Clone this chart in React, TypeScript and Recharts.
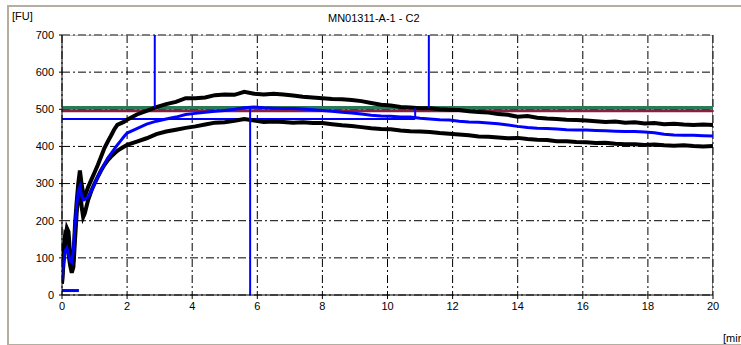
import React from 'react';
import { ComposedChart, Line, XAxis, YAxis, CartesianGrid } from 'recharts';

// time axis shared by the three measured curves [min]
const minutes = [
  0, 0.05, 0.1, 0.15, 0.2, 0.25, 0.3, 0.35, 0.4, 0.45, 0.5, 0.55, 0.6, 0.65, 0.7,
  0.8, 0.9, 1.0, 1.1, 1.2, 1.3, 1.4, 1.5, 1.6, 1.7, 1.8, 1.9, 2.0,
  2.3, 2.6, 2.9, 3.2, 3.5, 3.8, 4.1, 4.4, 4.7, 5.0, 5.3, 5.6, 5.9, 6.2, 6.5, 6.8, 7.1, 7.4, 7.7, 8.0,
  8.3, 8.6, 8.9, 9.2, 9.5, 9.8, 10.1, 10.4, 10.7, 11.0, 11.3, 11.6, 11.9, 12.2, 12.5, 12.8, 13.1, 13.4,
  13.7, 14.0, 14.3, 14.6, 14.9, 15.2, 15.5, 15.8, 16.1, 16.4, 16.7, 17.0, 17.3, 17.6, 17.9, 18.2, 18.5,
  18.8, 19.1, 19.4, 19.7, 20.0,
];

// upper band edge [FU]
const upperFU = [
  32, 90, 150, 180, 170, 110, 70, 95, 190, 250, 300, 335, 300, 275, 265,
  290, 310, 330, 350, 372, 395, 412, 428, 445, 458, 462, 466, 472,
  486, 496, 506, 514, 520, 530, 530, 532, 538, 540, 539, 547, 542, 540, 542, 540, 537, 534, 532, 530,
  528, 527, 525, 522, 517, 512, 510, 506, 505, 503, 503, 500, 499, 498, 495, 493, 491, 487,
  485, 480, 482, 477, 475, 474, 472, 471, 470, 468, 466, 467, 464, 465, 462, 463, 460,
  461, 459, 458, 459, 458,
];

// lower band edge [FU]
const lowerFU = [
  30, 120, 165, 160, 110, 80, 60, 75, 150, 220, 270, 300, 240, 210, 220,
  255, 280, 300, 318, 335, 350, 362, 372, 380, 388, 394, 399, 404,
  413, 422, 433, 440, 445, 450, 454, 459, 464, 465, 469, 474, 470, 466, 467, 466, 464, 465, 463, 463,
  460, 457, 455, 452, 449, 447, 446, 443, 441, 440, 439, 436, 434, 432, 430, 427, 426, 424,
  422, 423, 420, 418, 417, 414, 414, 412, 411, 409, 410, 407, 406, 406, 404, 405, 403,
  402, 403, 401, 400, 401,
];

// median curve [FU]
const medianFU = [
  40, 90, 120, 127, 110, 92, 88, 120, 190, 240, 280, 292, 268, 256, 258,
  264, 280, 300, 318, 336, 352, 368, 380, 392, 404, 415, 426, 436,
  448, 460, 468, 474, 479, 486, 489, 492, 495, 497, 500, 504, 506, 504, 503, 502, 502, 501, 499, 497,
  495, 492, 490, 487, 484, 482, 481, 479, 479, 476, 474, 472, 471, 468, 466, 465, 463, 461,
  458, 454, 451, 449, 448, 447, 445, 444, 444, 443, 442, 441, 440, 440, 439, 437, 433,
  431, 430, 430, 429, 428,
];

const xTicks = [0, 2, 4, 6, 8, 10, 12, 14, 16, 18, 20];
const yTicks = [0, 100, 200, 300, 400, 500, 600, 700];

// consistency lines [FU]
const upperLimit = 505;
const lowerLimit = 496;

// evaluation markers: [t1, fu1, t2, fu2]
const blueMarkers = [
  [0, 474, 10.85, 474],
  [10.85, 474, 10.85, 503],
  [2.85, 504, 2.85, 700],
  [5.78, 0, 5.78, 506],
  [11.27, 504, 11.27, 700],
  [0, 12, 0.52, 12],
];

const curve = (vals: number[]) => minutes.map((t, i) => ({ t, v: vals[i] }));
const seg = (m: number[]) => [{ t: m[0], v: m[1] }, { t: m[2], v: m[3] }];

const font = '"Liberation Sans", Arial, sans-serif';
const tick = { fontSize: 11, fill: '#000', fontFamily: font };

export default function App() {
  return (
    <div style={{ position: 'absolute', left: 0, top: 0, width: 741, height: 345, background: '#fff', overflow: 'hidden', fontFamily: font }}>
      <div style={{ position: 'absolute', left: 7, top: 5, width: 760, height: 337, border: '2px solid #b3ae9f' }} />
      <div style={{ position: 'absolute', left: 12, top: 10, fontSize: 11 }}>[FU]</div>
      <div style={{ position: 'absolute', left: 328, top: 12, fontSize: 11 }}>MN01311-A-1 - C2</div>
      <div style={{ position: 'absolute', left: 723, top: 332, fontSize: 11, whiteSpace: 'nowrap' }}>[min]</div>
      <div style={{ position: 'absolute', left: 0, top: 0 }}>
        <ComposedChart width={741} height={345} margin={{ top: 35, right: 28, bottom: 20, left: 22 }}>
          <CartesianGrid stroke="#000" strokeDasharray="8 3 2 3" />
          <XAxis dataKey="t" type="number" domain={[0, 20]} ticks={xTicks} allowDataOverflow
            height={30} tick={tick} tickSize={4} tickMargin={3}
            axisLine={{ stroke: '#000' }} tickLine={{ stroke: '#000' }} />
          <YAxis type="number" domain={[0, 700]} ticks={yTicks} allowDataOverflow
            width={40} tick={tick} tickSize={3} tickMargin={5}
            axisLine={{ stroke: '#000' }} tickLine={{ stroke: '#000' }} />
          <Line data={[{ t: 0, v: 700 }, { t: 20, v: 700 }]} dataKey="v" stroke="#808080" strokeWidth={1} dot={false} isAnimationActive={false} />
          <Line data={[{ t: 20, v: 0 }, { t: 20, v: 700 }]} dataKey="v" stroke="#000" strokeWidth={1} dot={false} isAnimationActive={false} />
          <Line data={[{ t: 0, v: upperLimit }, { t: 20, v: upperLimit }]} dataKey="v" stroke="#2a7a55" strokeWidth={3} dot={false} isAnimationActive={false} />
          <Line data={[{ t: 0, v: lowerLimit }, { t: 20, v: lowerLimit }]} dataKey="v" stroke="#8a1f45" strokeWidth={3} dot={false} isAnimationActive={false} />
          <Line data={seg(blueMarkers[0])} dataKey="v" stroke="#0000ff" strokeWidth={2} dot={false} isAnimationActive={false} />
          <Line data={curve(upperFU)} dataKey="v" stroke="#000" strokeWidth={4} dot={false} isAnimationActive={false} />
          <Line data={curve(lowerFU)} dataKey="v" stroke="#000" strokeWidth={4} dot={false} isAnimationActive={false} />
          <Line data={curve(medianFU)} dataKey="v" stroke="#0000ff" strokeWidth={3} dot={false} isAnimationActive={false} />
          {blueMarkers.slice(1).map((m, i) => (
            <Line key={i} data={seg(m)} dataKey="v" stroke="#0000ff" strokeWidth={i === 4 ? 3 : 2} dot={false} isAnimationActive={false} />
          ))}
        </ComposedChart>
      </div>
    </div>
  );
}
